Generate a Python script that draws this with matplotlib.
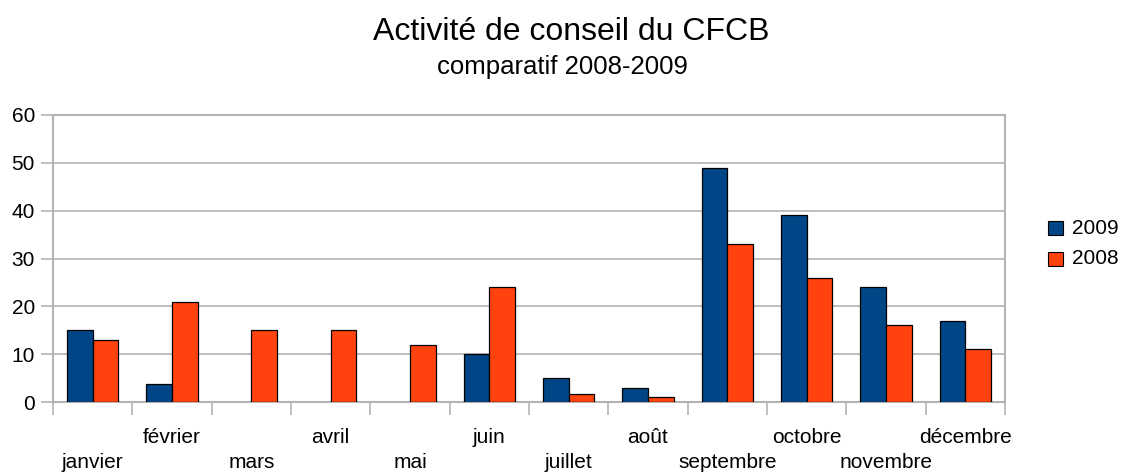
import matplotlib
matplotlib.use("Agg")
import matplotlib.pyplot as plt
import matplotlib.transforms as mtransforms
from matplotlib.patches import Rectangle
import numpy as np

plt.rcParams['font.family'] = ['Liberation Sans', 'DejaVu Sans']

months = ["janvier", "février", "mars", "avril", "mai", "juin", "juillet",
          "août", "septembre", "octobre", "novembre", "décembre"]
values_2009 = [15, 3.7, 0, 0, 0, 10, 5, 3, 49, 39, 24, 17]
values_2008 = [13, 21, 15, 15, 12, 24, 1.7, 1, 33, 26, 16, 11]
series_labels = ["2009", "2008"]
yticks = [0, 10, 20, 30, 40, 50, 60]

c2009 = "#004586"
c2008 = "#ff420e"
colors = [c2009, c2008]
grid_c = "#b3b3b3"

W, H = 1121, 474
fig = plt.figure(figsize=(W / 100, H / 100), dpi=100)
ax = fig.add_axes([53 / W, (H - 402) / H, (1005 - 53) / W, (402 - 115) / H])

x = np.arange(len(months))
bw = 0.325
for vals, off, col in [(values_2009, -bw / 2, c2009), (values_2008, bw / 2, c2008)]:
    v = np.array(vals, dtype=float)
    m = v > 0
    ax.bar(x[m] + off, v[m], bw, color=col, edgecolor="black", linewidth=0.9, zorder=3)

ax.set_xlim(-0.5, len(months) - 0.5)
ax.set_ylim(0, 60)
ax.set_yticks(yticks)
ax.set_yticklabels([str(v) for v in yticks], fontsize=15)
ax.yaxis.grid(True, color=grid_c, linewidth=1.2, zorder=0)
for s in ax.spines.values():
    s.set_color(grid_c)
    s.set_linewidth(1.5)
ax.tick_params(axis="y", length=9, width=1.2, color=grid_c, pad=4)

ax.set_xticks(np.arange(-0.5, len(months), 1.0))
ax.set_xticklabels([])
ax.tick_params(axis="x", length=9, width=1.2, color=grid_c)

trans = mtransforms.blended_transform_factory(ax.transData, ax.transAxes)
for i, m in enumerate(months):
    yy = -0.1429 if i % 2 == 1 else -0.23
    ax.text(i, yy, m, transform=trans, ha="center", va="baseline", fontsize=15)

fig.text(571 / W, 1 - 40 / H, "Activité de conseil du CFCB", ha="center", va="baseline", fontsize=23)
fig.text(562 / W, 1 - 74 / H, "comparatif 2008-2009", ha="center", va="baseline", fontsize=18.5)

# legend
for k, (lab, col) in enumerate(zip(series_labels, colors)):
    yc = 228 + 31 * k
    fig.patches.append(Rectangle((1048 / W, 1 - (yc + 7) / H), 15 / W, 14 / H,
                                 transform=fig.transFigure, facecolor=col,
                                 edgecolor="black", linewidth=0.8))
    fig.text(1072 / W, 1 - yc / H, lab, ha="left", va="center", fontsize=15)

fig.savefig("out.png", dpi=100)
